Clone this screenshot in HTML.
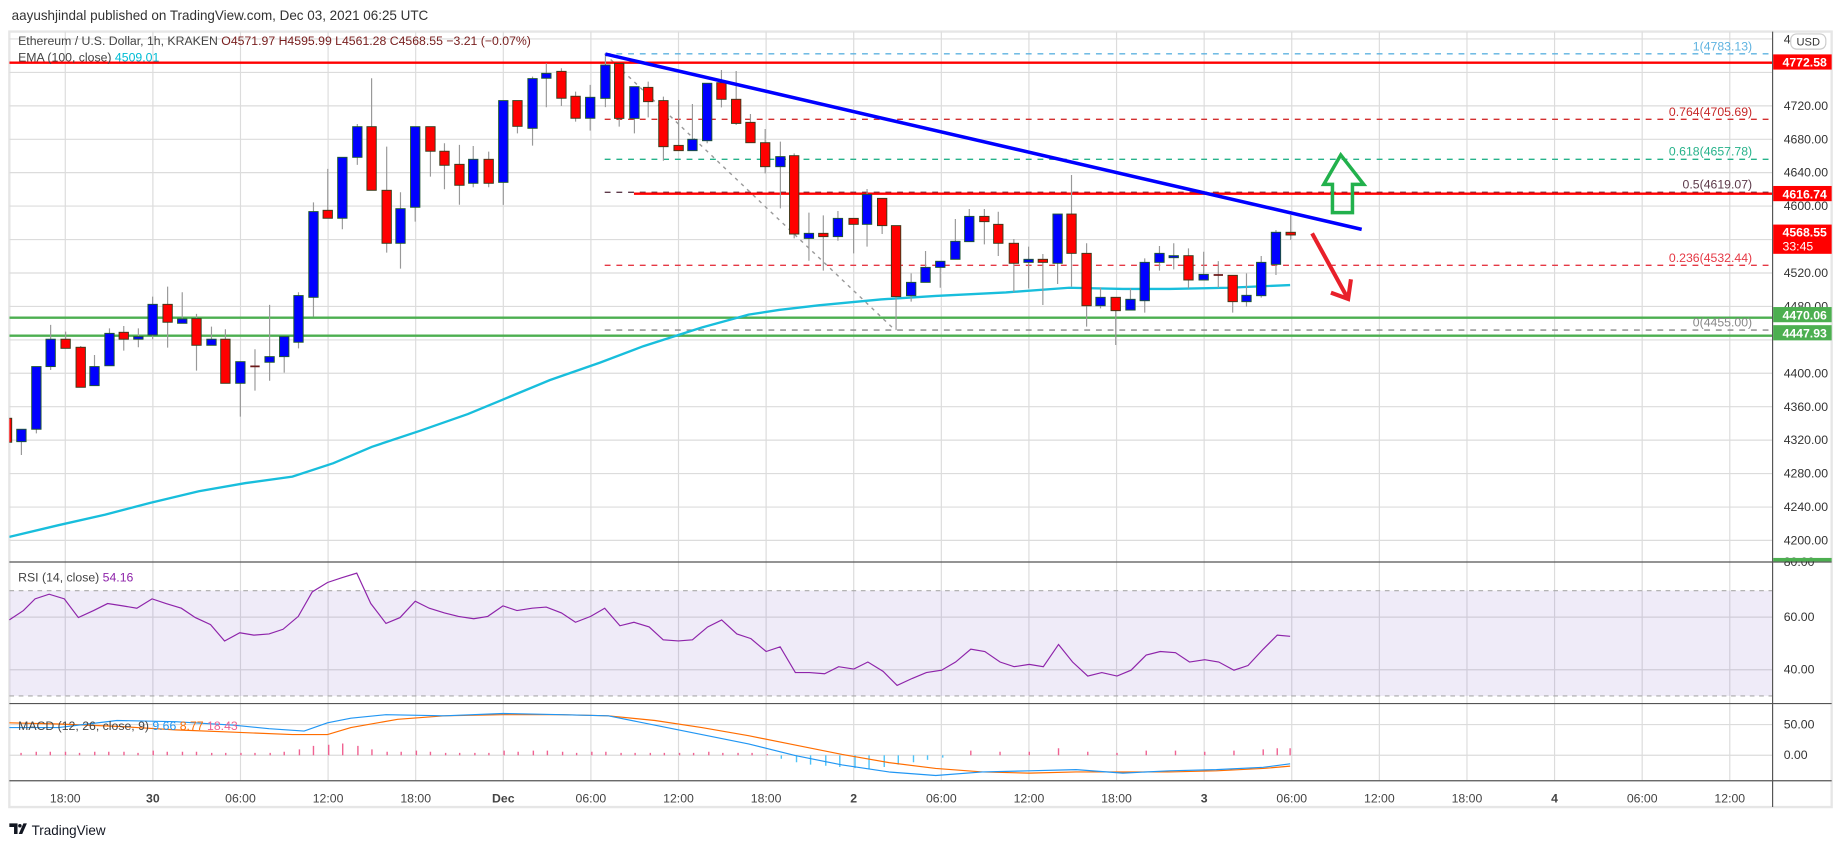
<!DOCTYPE html>
<html><head><meta charset="utf-8"><style>
html,body{margin:0;padding:0;background:#fff;width:1834px;height:848px;overflow:hidden}
svg{display:block}
text{font-family:"Liberation Sans",sans-serif}
</style></head><body>
<svg width="1834" height="848" viewBox="0 0 1568 725" preserveAspectRatio="none" xmlns="http://www.w3.org/2000/svg">
<defs>
<clipPath id="mp"><rect x="8" y="27" width="1507" height="453"/></clipPath>
</defs>
<rect x="0" y="0" width="1568" height="725" fill="#fff"/>
<text x="10" y="17" font-size="11.5" fill="#333">aayushjindal published on TradingView.com, Dec 03, 2021 06:25 UTC</text>
<rect x="8" y="27" width="1558" height="663" fill="#fff" stroke="#e6e6e6" stroke-width="2"/>
<!-- grid -->
<g stroke="#dcdcdc" stroke-width="1">
<path d="M55.8 27V667M130.7 27V667M205.6 27V667M280.5 27V667M355.4 27V667M430.3 27V667M505.2 27V667M580.1 27V667M655 27V667M729.9 27V667M804.8 27V667M879.7 27V667M954.6 27V667M1029.5 27V667M1104.4 27V667M1179.3 27V667M1254.2 27V667M1329.1 27V667M1404 27V667M1478.9 27V667"/>
<path d="M8 33.3H1515M8 61.9H1515M8 90.5H1515M8 119.1H1515M8 147.6H1515M8 176.2H1515M8 204.8H1515M8 233.4H1515M8 262H1515M8 290.6H1515M8 319.1H1515M8 347.7H1515M8 376.3H1515M8 404.9H1515M8 433.5H1515M8 462H1515"/>
<path d="M8 527.6H1515M8 572.6H1515M8 619.5H1515M8 645.7H1515"/>
</g>
<!-- RSI band -->
<rect x="8" y="505" width="1507" height="90" fill="#7e57c2" fill-opacity="0.12"/>
<path d="M8 505H1515M8 595H1515" stroke="#aaa" stroke-dasharray="4,4" stroke-width="1"/>
<g clip-path="url(#mp)">
<!-- fib lines -->
<g stroke-dasharray="5,5" stroke-width="1.2" fill="none">
<path d="M517 46H1515" stroke="#5fb3e0"/>
<path d="M517 102H1515" stroke="#d32f2f"/>
<path d="M517 136.2H1515" stroke="#26b28a"/>
<path d="M517 164.4H1515" stroke="#5d3a4a"/>
<path d="M517 226.8H1515" stroke="#e53945"/>
<path d="M517 282.2H1515" stroke="#888"/>
<path d="M517 46L765 282" stroke="#999" stroke-dasharray="3,4"/>
</g>
<path d="M8 53.6H1515" stroke="#ff0000" stroke-width="2"/>
<path d="M542 165.6H1515" stroke="#ff0000" stroke-width="2"/>
<path d="M8 271.6H1515M8 287H1515" stroke="#4caf50" stroke-width="2"/>
<!-- EMA -->
<polyline fill="none" stroke="#18bedc" stroke-width="2" points="8,459 50,449 90,440 128,430 170,420 210,413 250,407.5 285,396 318,382 360,368 400,354 429,342 470,325 513,310 550,296 600,280 640,269 666,265 700,261 753,256 800,253 860,250 914,246 960,247 1000,247 1050,246 1103,243.7"/>
<!-- wicks -->
<g stroke="#999" stroke-width="1">
<path d="M18.3 367V389M31.1 313.4V370.5M43.3 277.8V316.3M56.1 283.5V297.8M69 295.8V331.1M80.8 303.5V329.7M93.6 280.7V312.7M105.8 278.7V299.8M118.3 280.7V296.9M130.5 253.6V290M143.3 245V297.2M155.8 249.9V276.4M168 268.4V316.9M180.8 279.3V295.2M192.7 281.5V327.7M205.5 309.2V356.2M218 298.6V334M230.5 260.7V325.5M243 287.8V318.6M255.2 249.9V297.8M268 173V270.7M280.2 144.4V186.6M292.7 134.5V196M305.5 106V141M317.7 66.9V162.7M330.6 125.4V216M342.4 164.4V229.7M355 108.3V189.5M368 108.3V151M380 122.5V161.8M392.8 123.9V175M404.6 124.8V160.1M417.8 129.6V160.1M430.3 86V175.2M442.4 86V114M455.3 65.5V124.5M467.1 54.1V91.7M480 58.4V90.6M492.1 78.3V104M504.6 72.6V111.7"/>
<path d="M517.6 47V91.6M529.4 54.2V108.3M542.4 74.1V114M554.2 69.8V100.3M567.2 82.6V137.4M580.2 85.5V128.8M592 88.9V128.8M604.6 71.2V122.5M616.8 59.8V91.8M629.4 60.7V106.9M641.6 97.5V122M654.2 110.3V148.2M667.2 121.1V178.1M679 131.1V203.8M691.6 181.8V222.9M703.9 184.1V231.4M716.4 180.4V205.8M729.8 186.7V216.6M741.3 161.6V210.9M754.2 169.6V200.1M766.1 192.9V282.2M779 233.7V257.9M791.3 214.6V241.4M803.9 223.4V246M816.8 187.2V221.7M828.7 178.7V206.6M841.6 178.7V208.9M853.5 181V218.9M866.8 204.3V249.9M879.4 210.9V246.5M891.6 217.2V260.8M904.2 183V242.8M916.1 149.6V245.1M929 208V279.3M940.9 245.7V263.6M953.9 254.2V295M966.5 246.5V265.1M978.7 220.9V267.3M991.3 210.3V231.4M1003.5 208V230.3M1016.1 212.3V246.5M1029.1 215.2V239.4M1041.6 223.2V246M1053.9 235.4V267.3M1065.7 233.7V262.2M1078.3 218.9V254.5M1090.9 196.6V235.1M1103.5 183.8V205.2"/>
</g>
<!-- blue bodies -->
<g fill="#0000ff" stroke="#1e5631" stroke-width="0.8">
<rect x="14.3" y="367" width="8" height="10.6"/><rect x="27.1" y="313.4" width="8" height="53.6"/><rect x="39.3" y="290" width="8" height="23.4"/><rect x="76.8" y="313.4" width="8" height="16.3"/><rect x="89.6" y="285" width="8" height="27.7"/><rect x="114.3" y="287.8" width="8" height="2.2"/><rect x="126.5" y="260.2" width="8" height="26.2"/><rect x="151.8" y="272.7" width="8" height="3.7"/><rect x="176.8" y="290" width="8" height="5.2"/><rect x="201.5" y="309.2" width="8" height="18.5"/><rect x="226.5" y="304.9" width="8" height="4.8"/><rect x="239" y="287.8" width="8" height="17.1"/><rect x="251.2" y="252.7" width="8" height="39.9"/><rect x="264" y="180.9" width="8" height="73.3"/><rect x="288.7" y="134.5" width="8" height="52.1"/><rect x="301.5" y="108.3" width="8" height="26.2"/><rect x="338.4" y="178.4" width="8" height="29.6"/><rect x="351" y="108.3" width="8" height="68.9"/><rect x="400.6" y="136.2" width="8" height="20.5"/><rect x="426.3" y="86" width="8" height="69.9"/><rect x="451.3" y="67.2" width="8" height="42.5"/><rect x="463.1" y="62.7" width="8" height="4.2"/><rect x="500.6" y="83.2" width="8" height="17.9"/>
<rect x="513.6" y="55.6" width="8" height="28.5"/><rect x="538.4" y="74.1" width="8" height="27.1"/><rect x="588" y="119.1" width="8" height="9.7"/><rect x="600.6" y="71.2" width="8" height="49.1"/><rect x="663.2" y="133.9" width="8" height="8.6"/><rect x="687.6" y="199.5" width="8" height="4.3"/><rect x="712.4" y="186.7" width="8" height="15.6"/><rect x="737.3" y="166.2" width="8" height="25.6"/><rect x="775" y="241.4" width="8" height="11.4"/><rect x="787.3" y="228.6" width="8" height="12.8"/><rect x="799.9" y="223.4" width="8" height="5.2"/><rect x="812.8" y="206.3" width="8" height="15.4"/><rect x="824.7" y="185" width="8" height="21.6"/><rect x="875.4" y="221.7" width="8" height="2.6"/><rect x="900.2" y="183" width="8" height="42.1"/><rect x="936.9" y="254.2" width="8" height="7.2"/><rect x="962.5" y="255.9" width="8" height="9.2"/><rect x="974.7" y="224.3" width="8" height="32.8"/><rect x="987.3" y="216.6" width="8" height="7.7"/><rect x="999.5" y="218.6" width="8" height="1.7"/><rect x="1025.1" y="234.6" width="8" height="4.8"/><rect x="1061.7" y="252.5" width="8" height="5.4"/><rect x="1074.3" y="224.3" width="8" height="28.5"/><rect x="1086.9" y="198.6" width="8" height="27.4"/>
</g>
<!-- red bodies -->
<g fill="#ff0000" stroke="#3a3a1a" stroke-width="0.8">
<rect x="4" y="357.6" width="6" height="20.5"/><rect x="52.1" y="290" width="8" height="7.8"/><rect x="65" y="296.9" width="8" height="34.2"/><rect x="101.8" y="284.1" width="8" height="5.9"/><rect x="139.3" y="260.2" width="8" height="15.3"/><rect x="164" y="272.4" width="8" height="22.8"/><rect x="188.7" y="290" width="8" height="37.7"/><rect x="276.2" y="179.8" width="8" height="6.8"/><rect x="313.7" y="108.3" width="8" height="54.4"/><rect x="326.6" y="162.7" width="8" height="45.3"/><rect x="364" y="108.3" width="8" height="21"/><rect x="376" y="129.3" width="8" height="12"/><rect x="388.8" y="140.5" width="8" height="17.9"/><rect x="413.8" y="136.2" width="8" height="20.5"/><rect x="438.4" y="86" width="8" height="22"/><rect x="476" y="61" width="8" height="23"/><rect x="488.1" y="82.3" width="8" height="18.8"/>
<rect x="525.4" y="54.2" width="8" height="47"/><rect x="550.2" y="74.7" width="8" height="12.2"/><rect x="563.2" y="86" width="8" height="39.4"/><rect x="576.2" y="124.3" width="8" height="4.5"/><rect x="612.8" y="70.7" width="8" height="14.2"/><rect x="625.4" y="84.9" width="8" height="20.6"/><rect x="637.6" y="104.6" width="8" height="17.4"/><rect x="650.2" y="122" width="8" height="20.5"/><rect x="675" y="133.1" width="8" height="67"/><rect x="699.9" y="199.5" width="8" height="2.8"/><rect x="725.8" y="186.7" width="8" height="5.1"/><rect x="750.2" y="169.6" width="8" height="23.3"/><rect x="762.1" y="192.9" width="8" height="60.7"/><rect x="837.6" y="185" width="8" height="4.5"/><rect x="849.5" y="191.8" width="8" height="16.2"/><rect x="862.8" y="208" width="8" height="17.1"/><rect x="887.6" y="221.7" width="8" height="2.6"/><rect x="912.1" y="183" width="8" height="33.6"/><rect x="925" y="216.6" width="8" height="44.8"/><rect x="949.9" y="254.2" width="8" height="11.4"/><rect x="1012.1" y="218.6" width="8" height="20.8"/><rect x="1049.9" y="235.4" width="8" height="22.5"/><rect x="1099.5" y="198.6" width="8" height="2.3"/>
</g>
<path d="M214 313.2h8M1037.6 235.1h8" stroke="#6b1a1a" stroke-width="1.5"/>
<!-- trendline -->
<path d="M517.6 46.2L1164.2 196.1" stroke="#0000ff" stroke-width="3"/>
<!-- arrows -->
<path d="M1146.3 132.5L1131.8 157.6H1139.2V181.8H1156.3V157.6H1165.9Z" fill="none" stroke="#22b14c" stroke-width="3" stroke-linejoin="miter"/>
<path d="M1121.8 199.5L1152.6 255.6M1137.9 250.2L1152.6 255.6L1155 238.8" fill="none" stroke="#e8202a" stroke-width="3.5"/>
</g>
<!-- fib labels -->
<g font-size="10.5" text-anchor="end">
<text x="1498" y="43" fill="#5fb3e0">1(4783.13)</text>
<text x="1498" y="99" fill="#c62828">0.764(4705.69)</text>
<text x="1498" y="133" fill="#26b28a">0.618(4657.78)</text>
<text x="1498" y="161" fill="#5d3a4a">0.5(4619.07)</text>
<text x="1498" y="224" fill="#e53945">0.236(4532.44)</text>
<text x="1498" y="279" fill="#888">0(4455.00)</text>
</g>
<!-- legend -->
<text x="15.5" y="38.5" font-size="10.5" fill="#444">Ethereum / U.S. Dollar, 1h, KRAKEN <tspan fill="#7a2020">O4571.97 H4595.99 L4561.28 C4568.55 −3.21 (−0.07%)</tspan></text>
<text x="15.5" y="52.5" font-size="10.5" fill="#444">EMA (100, close) <tspan fill="#00bcd4">4509.01</tspan></text>
<!-- RSI -->
<polyline fill="none" stroke="#8e24aa" stroke-width="1" points="8,530 20,522 30,512 42,508 55,512 67,528 80,522 92,516 105,518 117,520 130,512 142,516 155,520 167,528 180,534 192,548 205,541 217,543 230,542 242,538 255,527 267,506 280,498 292,494 305,490 317,516 330,533 342,528 355,514 367,520 380,524 392,527 405,529 417,527 430,518 442,522 455,520 467,519 480,524 492,532 505,527 517,520 530,535 542,532 555,536 567,547 580,548 592,547 605,536 617,530 630,542 642,546 655,557 667,553 680,575 692,575 705,576 717,570 730,572 742,566 755,574 767,586 780,580 792,575 805,573 817,566 830,555 842,557 855,566 867,570 880,568 892,570 905,551 917,566 930,578 942,575 955,578 967,573 980,560 992,557 1005,558 1017,566 1030,564 1042,566 1055,573 1067,569 1080,555 1092,543 1103,544"/>
<text x="15.5" y="497" font-size="10.5" fill="#444">RSI (14, close) <tspan fill="#8e24aa">54.16</tspan></text>
<!-- MACD -->
<g stroke="#f06292" stroke-width="1.2">
<path d="M18 645.7v-2M31 645.7v-3M43 645.7v-3M56 645.7v-3M68 645.7v-2M81 645.7v-3M93 645.7v-3M106 645.7v-3M118 645.7v-2M131 645.7v-4M143 645.7v-3M156 645.7v-3M168 645.7v-3M181 645.7v-2M193 645.7v-2M206 645.7v-2M218 645.7v-2M231 645.7v-2M243 645.7v-3M256 645.7v-5M268 645.7v-8M281 645.7v-9M293 645.7v-10M306 645.7v-8M318 645.7v-5M331 645.7v-3M343 645.7v-3M356 645.7v-4M368 645.7v-3M381 645.7v-2M393 645.7v-2M406 645.7v-2M418 645.7v-2M431 645.7v-4M443 645.7v-3M456 645.7v-4M468 645.7v-4M481 645.7v-3M493 645.7v-2M506 645.7v-3M518 645.7v-3M531 645.7v-2M543 645.7v-2M556 645.7v-2M568 645.7v-2M581 645.7v-2M593 645.7v-2M606 645.7v-3M618 645.7v-2M631 645.7v-2M643 645.7v-2M656 645.7v-1"/>
<path d="M830 645.7v-4M855 645.7v-3M880 645.7v-3M905 645.7v-6M930 645.7v-3M955 645.7v-2M980 645.7v-4M1005 645.7v-4M1030 645.7v-3M1055 645.7v-4M1080 645.7v-5M1092 645.7v-6M1103 645.7v-6"/>
</g>
<g stroke="#4fc3f7" stroke-width="1.2">
<path d="M668 645.7v3M681 645.7v6M693 645.7v8M706 645.7v9M718 645.7v10M731 645.7v11M743 645.7v12M756 645.7v10M768 645.7v8M781 645.7v6M793 645.7v4M806 645.7v2"/>
</g>
<polyline fill="none" stroke="#ff6d00" stroke-width="1" points="8,618 50,619 100,621 150,624 200,626 250,628 280,628 300,622 340,615 380,612 430,611 480,611 520,612 560,616 600,622 640,629 680,637 720,645 760,652 800,657 840,660 880,661 920,660 960,660 1000,660 1040,659 1080,657 1103,655"/>
<polyline fill="none" stroke="#2196f3" stroke-width="1" points="8,622 50,622 100,616 150,617 200,620 230,623 260,625 280,618 300,614 330,611 380,612 430,610 480,611 520,612 560,620 600,628 640,636 680,646 720,654 760,660 800,663 840,660 880,659 920,658 960,661 1000,659 1040,658 1080,656 1103,653"/>
<text x="15.5" y="624" font-size="10.5" fill="#444">MACD (12, 26, close, 9) <tspan fill="#2196f3">9.66</tspan> <tspan fill="#ff6d00">8.77</tspan> <tspan fill="#f06292">18.43</tspan></text>
<!-- separators -->
<path d="M8 480.5H1566M8 601.5H1566M8 667.5H1566" stroke="#555" stroke-width="1"/>
<path d="M1515.5 27V690" stroke="#555" stroke-width="1"/>
<!-- price labels -->
<g font-size="10.5" fill="#333">
<text x="1525" y="37">4</text>
<text x="1525" y="94">4720.00</text><text x="1525" y="122.6">4680.00</text><text x="1525" y="151">4640.00</text><text x="1525" y="179.7">4600.00</text><text x="1525" y="236.9">4520.00</text><text x="1525" y="265.5">4480.00</text><text x="1525" y="322.6">4400.00</text><text x="1525" y="351.2">4360.00</text><text x="1525" y="379.8">4320.00</text><text x="1525" y="408.4">4280.00</text><text x="1525" y="437">4240.00</text><text x="1525" y="465.5">4200.00</text>
<text x="1525" y="484">80.00</text><text x="1525" y="531">60.00</text><text x="1525" y="576">40.00</text>
<text x="1525" y="623">50.00</text><text x="1525" y="649">0.00</text>
</g>
<rect x="1531" y="29" width="30" height="13" rx="5" fill="#fff" stroke="#ccc"/>
<text x="1546" y="39" font-size="9.5" fill="#333" text-anchor="middle">USD</text>
<g font-size="10.5" font-weight="bold" fill="#fff">
<rect x="1516" y="46.5" width="50" height="13" fill="#ff0000"/><text x="1524" y="57">4772.58</text>
<rect x="1516" y="159" width="50" height="13" fill="#ff0000"/><text x="1524" y="169.5">4616.74</text>
<rect x="1516" y="192" width="50" height="25" fill="#ff0000"/><text x="1524" y="202">4568.55</text><text x="1524" y="214" font-weight="normal">33:45</text>
<rect x="1516" y="262.5" width="50" height="13" fill="#4caf50"/><text x="1524" y="273">4470.06</text>
<rect x="1516" y="278" width="50" height="13" fill="#4caf50"/><text x="1524" y="288.5">4447.93</text>
<rect x="1516" y="477" width="50" height="3" fill="#4caf50"/>
</g>
<!-- time labels -->
<g font-size="10.5" fill="#444" text-anchor="middle">
<text x="55.8" y="686">18:00</text><text x="130.7" y="686" font-weight="bold">30</text><text x="205.6" y="686">06:00</text><text x="280.5" y="686">12:00</text><text x="355.4" y="686">18:00</text><text x="430.3" y="686" font-weight="bold">Dec</text><text x="505.2" y="686">06:00</text><text x="580.1" y="686">12:00</text><text x="655" y="686">18:00</text><text x="729.9" y="686" font-weight="bold">2</text><text x="804.8" y="686">06:00</text><text x="879.7" y="686">12:00</text><text x="954.6" y="686">18:00</text><text x="1029.5" y="686" font-weight="bold">3</text><text x="1104.4" y="686">06:00</text><text x="1179.3" y="686">12:00</text><text x="1254.2" y="686">18:00</text><text x="1329.1" y="686" font-weight="bold">4</text><text x="1404" y="686">06:00</text><text x="1478.9" y="686">12:00</text>
</g>
<!-- logo -->
<path d="M8 704h7v9h-3v-6h-4zM16 713l4-9h3l-4 9z" fill="#131722"/>
<circle cx="17" cy="706" r="1.5" fill="#131722"/>
<text x="27" y="714" font-size="11.5" fill="#131722">TradingView</text>
</svg>
</body></html>
